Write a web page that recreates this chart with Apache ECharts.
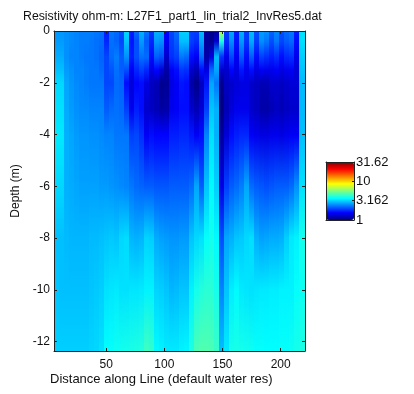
<!DOCTYPE html>
<html>
<head>
<meta charset="utf-8">
<style>
  html, body { margin: 0; padding: 0; background: #fff; }
  #chart { width: 414px; height: 394px; }
</style>
</head>
<body>
<div id="chart"></div>
<script src="https://cdn.jsdelivr.net/npm/echarts@6/dist/echarts.min.js"></script>
<script>
// left edge of each column along the line, last entry closes the last column
const lineEdges = [5.2, 9.5, 13.8, 18.1, 22.4, 26.7, 31, 35.3, 39.6, 43.9, 48.2, 52.5, 56.8, 61.1, 65.4, 69.7, 74, 78.3, 82.6, 86.9, 91.2, 95.5, 99.8, 104.1, 108.4, 112.7, 117, 121.3, 125.6, 129.9, 134.2, 138.5, 142.8, 147.1, 151.4, 155.7, 160, 164.3, 168.6, 172.9, 177.2, 181.5, 185.8, 190.1, 194.4, 198.7, 203, 207.3, 211.6, 215.9, 220.9]
const depths = [0, -0.4, -1, -1.5, -2, -3, -4, -6, -8, -10, -12.36]

// resistivity (ohm-m), one list per depth
const rhoAt0 = [2.56, 2.56, 2.5, 2.45, 2.4, 2.35, 2.35, 2.35, 2.3, 2.25, 1.7, 2.3, 2.2, 2.0, 3.2, 1.7, 2.2, 2.8, 2.3, 1.85, 2.8, 2.75, 1.55, 1.95, 2.2, 3.1, 3.1, 1.9, 1.9, 2.9, 1.1, 1.05, 1.1, 7.0, 1.9, 2.7, 1.7, 2.8, 1.9, 2.9, 2.0, 2.6, 2.5, 2.15, 2.4, 2.0, 2.2, 2.3, 1.7, 3.3]
const rhoAt04 = [2.6, 2.6, 2.5, 2.45, 2.4, 2.35, 2.35, 2.3, 2.25, 2.2, 1.75, 2.25, 2.15, 1.95, 3.0, 1.65, 2.0, 2.6, 2.1, 1.75, 2.6, 2.5, 1.5, 1.9, 2.1, 2.95, 2.95, 1.9, 1.8, 2.7, 1.1, 1.05, 1.3, 4.0, 1.8, 2.5, 1.65, 2.6, 1.85, 2.75, 1.9, 2.5, 2.3, 2.0, 2.3, 1.95, 2.1, 2.2, 1.6, 3.3]
const rhoAt1 = [2.75, 2.75, 2.5, 2.4, 2.4, 2.35, 2.3, 2.3, 2.25, 2.15, 1.95, 2.2, 2.35, 2.1, 2.5, 1.7, 2.0, 2.25, 2.2, 1.6, 2.1, 2.0, 1.3, 1.8, 1.9, 2.3, 2.2, 1.6, 1.5, 2.2, 1.15, 1.4, 2.9, 1.8, 1.45, 1.95, 1.5, 2.1, 1.6, 2.1, 1.6, 1.9, 1.8, 1.7, 1.8, 1.6, 1.75, 1.8, 1.45, 3.1]
const rhoAt15 = [2.95, 2.95, 2.6, 2.5, 2.4, 2.4, 2.35, 2.3, 2.3, 2.2, 1.95, 2.05, 2.25, 2.1, 2.0, 1.5, 1.75, 1.9, 1.75, 1.4, 1.55, 1.35, 1.15, 1.5, 1.6, 1.85, 1.8, 1.3, 1.2, 1.6, 1.4, 2.2, 2.7, 1.3, 1.3, 1.55, 1.4, 1.65, 1.45, 1.6, 1.4, 1.5, 1.45, 1.45, 1.5, 1.4, 1.45, 1.5, 1.35, 3.0]
const rhoAt2 = [3.2, 3.2, 2.7, 2.55, 2.45, 2.4, 2.35, 2.3, 2.3, 2.3, 1.95, 1.95, 2.2, 2.15, 1.6, 1.35, 1.55, 1.6, 1.4, 1.25, 1.2, 1.05, 1.08, 1.4, 1.5, 1.65, 1.6, 1.15, 1.05, 1.25, 1.65, 2.7, 2.3, 1.05, 1.25, 1.3, 1.35, 1.4, 1.4, 1.3, 1.25, 1.2, 1.2, 1.3, 1.3, 1.25, 1.3, 1.35, 1.35, 2.9]
const rhoAt3 = [3.3, 3.3, 2.75, 2.6, 2.5, 2.45, 2.45, 2.4, 2.4, 2.4, 2.1, 2.2, 2.25, 2.2, 1.9, 1.45, 1.7, 1.6, 1.3, 1.25, 1.2, 1.12, 1.15, 1.45, 1.5, 1.6, 1.6, 1.3, 1.2, 1.35, 1.9, 3.0, 2.8, 1.0, 1.2, 1.35, 1.45, 1.45, 1.45, 1.3, 1.25, 1.15, 1.15, 1.2, 1.25, 1.2, 1.25, 1.3, 1.3, 2.9]
const rhoAt4 = [3.4, 3.4, 2.8, 2.7, 2.6, 2.55, 2.55, 2.5, 2.5, 2.45, 2.4, 2.4, 2.3, 2.3, 2.3, 1.9, 1.95, 1.8, 1.5, 1.6, 1.55, 1.55, 1.55, 1.7, 1.7, 1.75, 1.75, 1.65, 1.5, 1.6, 2.4, 3.3, 2.8, 1.1, 1.35, 1.6, 1.7, 1.75, 1.75, 1.5, 1.45, 1.4, 1.4, 1.45, 1.45, 1.4, 1.45, 1.5, 1.5, 2.95]
const rhoAt6 = [3.2, 3.2, 2.8, 2.75, 2.7, 2.65, 2.65, 2.65, 2.65, 2.6, 2.6, 2.55, 2.5, 2.45, 2.4, 2.3, 2.2, 2.15, 2.1, 2.1, 2.05, 2.05, 2.05, 2.1, 2.1, 2.1, 2.1, 2.2, 2.7, 2.1, 3.0, 3.6, 3.1, 1.4, 1.9, 2.1, 2.2, 2.35, 2.7, 2.2, 2.1, 2.05, 2.0, 2.05, 2.1, 2.1, 2.1, 2.2, 2.5, 3.3]
const rhoAt8 = [2.95, 2.95, 2.9, 2.85, 2.85, 2.85, 2.85, 2.9, 2.9, 2.95, 3.0, 3.05, 3.0, 3.2, 3.25, 2.85, 2.8, 2.85, 3.15, 3.1, 2.75, 2.65, 2.6, 2.55, 2.55, 2.6, 2.6, 3.0, 3.2, 3.3, 3.7, 3.9, 3.6, 2.0, 2.7, 2.8, 3.0, 3.05, 3.2, 3.3, 2.8, 2.65, 2.7, 2.75, 2.75, 2.8, 3.1, 3.4, 3.5, 3.9]
const rhoAt10 = [3.0, 2.95, 2.95, 2.95, 2.95, 2.95, 2.95, 3.0, 3.05, 3.1, 3.3, 3.35, 3.4, 3.3, 3.3, 3.35, 3.35, 3.4, 3.5, 3.5, 3.15, 3.1, 3.0, 2.85, 2.9, 3.0, 3.0, 3.5, 3.9, 4.1, 4.2, 4.2, 3.9, 2.4, 3.0, 3.45, 3.6, 3.4, 3.35, 3.3, 3.35, 3.4, 3.4, 3.45, 3.45, 3.5, 3.5, 3.5, 3.7, 3.8]
const rhoAtBottom = [3.1, 3.1, 3.1, 3.1, 3.1, 3.1, 3.1, 3.15, 3.2, 3.3, 3.65, 3.7, 3.8, 3.85, 3.9, 3.95, 4.0, 4.1, 4.5, 4.3, 3.6, 3.5, 3.4, 3.4, 3.4, 3.5, 3.55, 4.0, 4.7, 4.8, 4.8, 4.7, 4.4, 2.95, 3.4, 3.9, 3.95, 3.9, 3.85, 3.8, 3.7, 3.7, 3.65, 3.65, 3.65, 3.7, 3.7, 3.8, 3.9, 4.0]
const rhoRows = [rhoAt0, rhoAt04, rhoAt1, rhoAt15, rhoAt2, rhoAt3, rhoAt4, rhoAt6, rhoAt8, rhoAt10, rhoAtBottom]

const xTicks = [50, 100, 150, 200]
const yTicks = [0, -2, -4, -6, -8, -10, -12]
const barTicks = [1, 3.162, 10, 31.62]
const jet = ['#000080', '#0000ff', '#0080ff', '#00ffff', '#80ff80', '#ffff00', '#ff8000', '#ff0000', '#800000']

const font = '"Liberation Sans", Arial, sans-serif'
const textColor = '#111'

// resistivity to jet colour, log scale from 1 to 31.62
function rhoColor(rho) {
  const t = Math.log10(rho) / 1.5
  return echarts.color.lerp(Math.min(Math.max(t, 0), 1), jet)
}

const cells = []
rhoRows.slice(0, -1).forEach((row, r) => {
  row.forEach((rho, c) => {
    cells.push([lineEdges[c], lineEdges[c + 1], depths[r], depths[r + 1], rho, rhoRows[r + 1][c]])
  })
})

function renderCell(params, api) {
  const p0 = api.coord([api.value(0), api.value(2)])
  const p1 = api.coord([api.value(1), api.value(3)])
  const x = Math.round(p0[0])
  const y = Math.round(p0[1])
  return {
    type: 'rect',
    shape: { x: x, y: y, width: Math.round(p1[0]) - x, height: Math.round(p1[1]) - y },
    style: {
      fill: new echarts.graphic.LinearGradient(0, 0, 0, 1, [
        { offset: 0, color: rhoColor(api.value(4)) },
        { offset: 1, color: rhoColor(api.value(5)) }
      ])
    }
  }
}

const axisColor = '#222'
function boxAxis(extra) {
  return Object.assign({
    type: 'value',
    z: 5,
    splitLine: { show: false },
    axisLine: { onZero: false, lineStyle: { color: axisColor, width: 1 } },
    axisTick: { inside: true, length: 3, lineStyle: { color: axisColor } }
  }, extra)
}

const chart = echarts.init(document.getElementById('chart'))
chart.setOption({
  animation: false,
  backgroundColor: '#fff',
  title: [
    {
      text: 'Resistivity ohm-m: L27F1_part1_lin_trial2_InvRes5.dat',
      left: 23, top: 11, padding: 0,
      textStyle: { fontFamily: font, fontSize: 12.3, fontWeight: 'normal', color: textColor }
    },
    {
      text: 'Distance along Line (default water res)',
      left: 50, top: 373, padding: 0,
      textStyle: { fontFamily: font, fontSize: 13, fontWeight: 'normal', color: textColor }
    }
  ],
  grid: [
    { left: 54, top: 31, width: 251, height: 320 },
    { left: 326, top: 162, width: 28, height: 58 }
  ],
  xAxis: [
    boxAxis({
      gridIndex: 0, min: 5.2, max: 220.9,
      axisTick: { inside: true, length: 3, customValues: xTicks, lineStyle: { color: axisColor } },
      axisLabel: { customValues: xTicks, margin: 8, fontFamily: font, fontSize: 12, color: textColor }
    }),
    boxAxis({
      gridIndex: 0, position: 'top', min: 5.2, max: 220.9,
      axisTick: { inside: true, length: 3, customValues: xTicks, lineStyle: { color: axisColor } },
      axisLabel: { show: false }
    }),
    boxAxis({
      gridIndex: 1, min: 0, max: 1,
      axisTick: { show: false }, axisLabel: { show: false }
    }),
    boxAxis({
      gridIndex: 1, position: 'top', min: 0, max: 1,
      axisTick: { show: false }, axisLabel: { show: false }
    })
  ],
  yAxis: [
    boxAxis({
      gridIndex: 0, min: -12.36, max: 0,
      name: 'Depth (m)', nameLocation: 'middle', nameRotate: 90, nameGap: 29,
      nameTextStyle: { fontFamily: font, fontSize: 12, color: textColor },
      axisTick: { inside: true, length: 3, customValues: yTicks, lineStyle: { color: axisColor } },
      axisLabel: { customValues: yTicks, margin: 4, fontFamily: font, fontSize: 12, color: textColor }
    }),
    boxAxis({
      gridIndex: 0, position: 'right', min: -12.36, max: 0,
      axisTick: { inside: true, length: 3, customValues: yTicks, lineStyle: { color: axisColor } },
      axisLabel: { show: false }
    }),
    boxAxis({
      gridIndex: 1, type: 'log', logBase: 10, min: 1, max: 31.62, position: 'right',
      axisTick: { inside: true, length: 2, customValues: barTicks, lineStyle: { color: axisColor } },
      axisLabel: {
        customValues: barTicks, margin: 2, fontFamily: font, fontSize: 13, color: textColor,
        formatter: (v) => String(v)
      }
    }),
    boxAxis({
      gridIndex: 1, min: 0, max: 1, position: 'left',
      axisTick: { show: false }, axisLabel: { show: false }
    })
  ],
  visualMap: {
    type: 'continuous',
    seriesIndex: 1,
    min: 0, max: 1.5,
    left: 326, top: 162,
    padding: 0,
    itemWidth: 28, itemHeight: 58,
    calculable: false,
    hoverLink: false,
    showLabel: false,
    text: null,
    inRange: { color: jet }
  },
  series: [
    {
      type: 'custom',
      xAxisIndex: 0, yAxisIndex: 0,
      clip: true,
      renderItem: renderCell,
      encode: { x: [0, 1], y: [2, 3] },
      data: cells
    },
    {
      type: 'scatter',
      xAxisIndex: 2, yAxisIndex: 3,
      data: []
    }
  ]
})
</script>
</body>
</html>
